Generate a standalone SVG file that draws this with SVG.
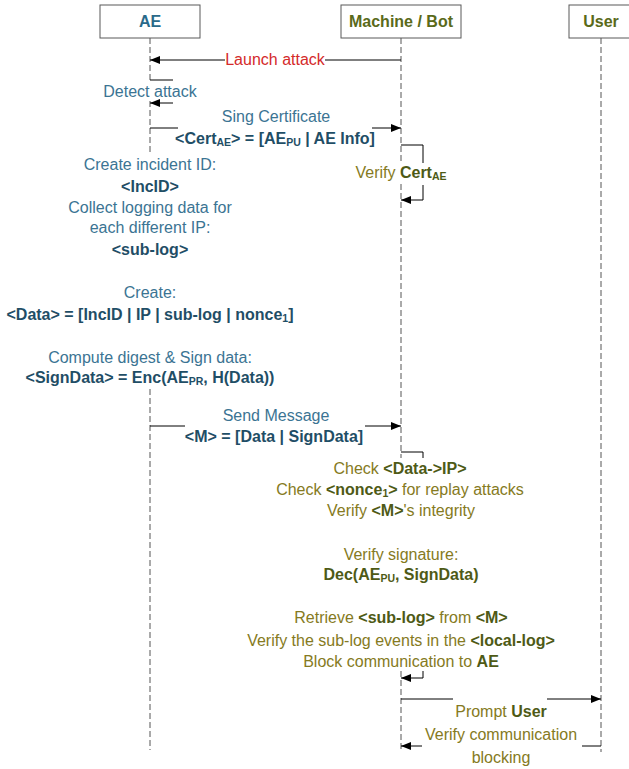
<svg xmlns="http://www.w3.org/2000/svg" width="629" height="769" viewBox="0 0 629 769">
<style>
text{font-family:"Liberation Sans",Arial,sans-serif;font-size:16px;text-anchor:middle}
.hdr{font-weight:bold;font-size:16px}
.ae{fill:#3B7493}
.aeb{fill:#1F4E66;font-weight:bold}
.mb{fill:#857A22}
.mbb{fill:#4E5A16;font-weight:bold}
.red{fill:#D42A2A}
.box{fill:#fff;stroke:#595959;stroke-width:1}
.life{fill:none;stroke:#555;stroke-width:1;stroke-dasharray:6 3}
.msg{fill:none;stroke:#000;stroke-width:1}
.arr{marker-end:url(#ah)}
.sub{font-size:10.5px}
</style>
<defs>
<marker id="ah" viewBox="0 0 10 8" refX="10" refY="4" markerWidth="10" markerHeight="8" markerUnits="userSpaceOnUse" orient="auto">
<path d="M0,0 L10,4 L0,8 z" fill="#000"/>
</marker>
</defs>
<rect width="629" height="769" fill="#fff"/>
<g id="lifelines">
<path class="life" d="M150,38 V83 M150,101 V152 M150,389 V750"/>
<path class="life" d="M401,38 V164 M401,184 V458 M401,671 V750"/>
<path class="life" d="M601,38 V752"/>
</g>
<g id="node-ae">
<rect class="box" x="100" y="5" width="100" height="33"/>
<text class="hdr" x="150" y="27" fill="#2A6A8A">AE</text>
</g>
<g id="node-machine">
<rect class="box" x="341" y="5" width="120" height="33"/>
<text class="hdr" x="401" y="27" fill="#5A6A1A">Machine / Bot</text>
</g>
<g id="node-user">
<rect class="box" x="569" y="5" width="70" height="33"/>
<text class="hdr" x="601" y="27" fill="#5A6A1A">User</text>
</g>
<g id="connectors">
<path class="msg arr" d="M401,60 H325 M225,60 H150"/>
<path class="msg arr" d="M150,80 H173 M173,103 H150"/>
<path class="msg arr" d="M150,128 H178 M372,128 H401"/>
<path class="msg arr" d="M401,145 H423 V163 M423,185 V200 H401"/>
<path class="msg arr" d="M150,426 H185 M365,426 H401"/>
<path class="msg arr" d="M401,452 H423 V458 M423,671 V678 H401"/>
<path class="msg arr" d="M401,699 H453 M547,699 H601"/>
<path class="msg arr" d="M601,746 H582 M422,746 H401"/>
</g>
<g id="labels-connectors">
<text class="red" x="275" y="65">Launch attack</text>
<text class="ae" x="150" y="97">Detect attack</text>
<text class="ae" x="276" y="122">Sing Certificate</text>
<text class="aeb" x="275" y="144">&lt;Cert<tspan class="sub" dy="2">AE</tspan><tspan dy="-2">&gt; = [AE</tspan><tspan class="sub" dy="2">PU</tspan><tspan dy="-2"> | AE Info]</tspan></text>
<text class="mb" x="401" y="178">Verify <tspan class="mbb">Cert</tspan><tspan class="mbb sub" dy="2">AE</tspan></text>
<text class="ae" x="276" y="421">Send Message</text>
<text class="aeb" x="274" y="442">&lt;M&gt; = [Data | SignData]</text>
<text class="mb" x="501" y="717">Prompt <tspan class="mbb">User</tspan></text>
<text class="mb" x="501" y="740">Verify communication</text>
<text class="mb" x="501" y="763">blocking</text>
</g>
<g id="ae-actions">
<text class="ae" x="150" y="170">Create incident ID:</text>
<text class="aeb" x="150" y="192">&lt;IncID&gt;</text>
<text class="ae" x="150" y="213">Collect logging data for</text>
<text class="ae" x="150" y="233">each different IP:</text>
<text class="aeb" x="150" y="255">&lt;sub-log&gt;</text>
<text class="ae" x="150" y="298">Create:</text>
<text class="aeb" x="150" y="320">&lt;Data&gt; = [IncID | IP | sub-log | nonce<tspan class="sub" dy="2">1</tspan><tspan dy="-2">]</tspan></text>
<text class="ae" x="150" y="363">Compute digest &amp; Sign data:</text>
<text class="aeb" x="150" y="383">&lt;SignData&gt; = Enc(AE<tspan class="sub" dy="2">PR</tspan><tspan dy="-2">, H(Data))</tspan></text>
</g>
<g id="machine-actions">
<text class="mb" x="400" y="474">Check <tspan class="mbb">&lt;Data-&gt;IP&gt;</tspan></text>
<text class="mb" x="400" y="495">Check <tspan class="mbb">&lt;nonce</tspan><tspan class="mbb sub" dy="2">1</tspan><tspan class="mbb" dy="-2">&gt;</tspan> for replay attacks</text>
<text class="mb" x="401" y="516">Verify <tspan class="mbb">&lt;M&gt;</tspan>'s integrity</text>
<text class="mb" x="401" y="560">Verify signature:</text>
<text class="mbb" x="401" y="580">Dec(AE<tspan class="sub" dy="2">PU</tspan><tspan dy="-2">, SignData)</tspan></text>
<text class="mb" x="401" y="623">Retrieve <tspan class="mbb">&lt;sub-log&gt;</tspan> from <tspan class="mbb">&lt;M&gt;</tspan></text>
<text class="mb" x="401" y="646">Verify the sub-log events in the <tspan class="mbb">&lt;local-log&gt;</tspan></text>
<text class="mb" x="401" y="667">Block communication to <tspan class="mbb">AE</tspan></text>
</g>
</svg>
